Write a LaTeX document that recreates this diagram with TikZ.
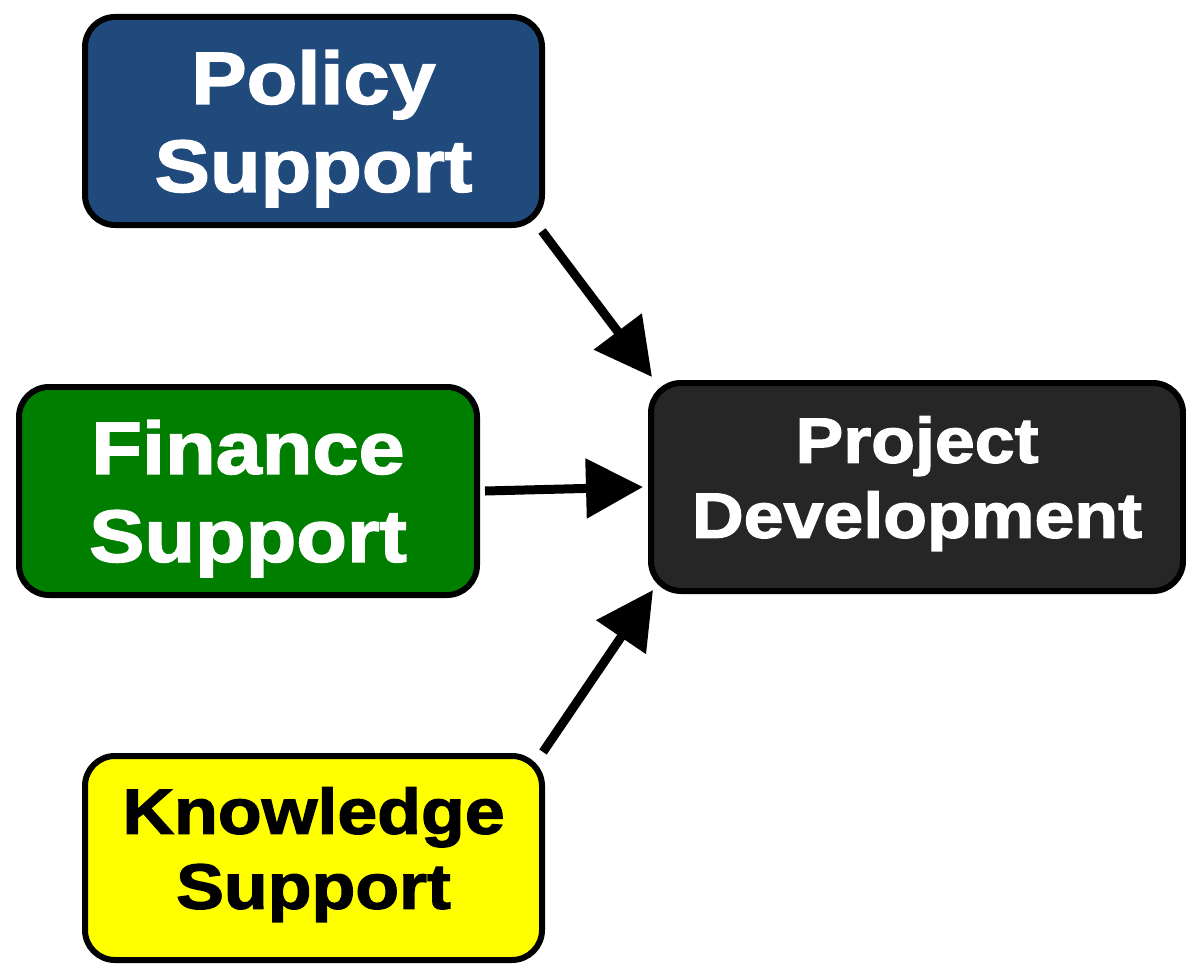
\documentclass[tikz,border=0pt]{standalone}
\usepackage{fontspec}
\newfontfamily\boxfont{Liberation Sans}[FakeStretch=1.12,FakeBold=2]
\usetikzlibrary{arrows.meta}
\definecolor{polblue}{RGB}{33,74,124}
\definecolor{fingreen}{RGB}{0,126,0}
\definecolor{knyellow}{RGB}{255,255,0}
\definecolor{projgray}{RGB}{38,38,38}
\begin{document}
\begin{tikzpicture}[x=1pt,y=-1pt,
  card/.style={draw=black, line width=6pt, rounded corners=30pt, align=center,
    inner sep=0pt},
  bigtext/.style={font=\boxfont\bfseries\fontsize{74}{88}\selectfont,
    text depth=-6pt},
  midtext/.style={font=\boxfont\bfseries\fontsize{64}{75}\selectfont,
    text depth=20pt},
  arr/.style={draw=black, line width=9pt, -{Triangle[length=57pt,width=58pt]}}]
\useasboundingbox (0,0) rectangle (1186,966);
\node[card, bigtext, fill=polblue, text=white, minimum width=457pt, minimum height=208pt]
  (pol) at (313.5,121) {Policy\\Support};
\node[card, bigtext, fill=fingreen, text=white, minimum width=458pt, minimum height=208pt]
  (fin) at (248,491) {Finance\\Support};
\node[card, midtext, fill=projgray, text=white, minimum width=532pt, minimum height=208pt]
  (proj) at (917,487) {Project\\Development};
\node[card, midtext, fill=knyellow, text=black, minimum width=457pt, minimum height=204pt]
  (kn) at (313.5,858) {Knowledge\\Support};
\draw[arr] ([shift={(-3,3)}]pol.south east) -- ([shift={(4,-3)}]proj.north west);
\draw[arr] ([shift={(5,0)}]fin.east) -- ([shift={(-5,0)}]proj.west);
\draw[arr] ([shift={(-2,-1)}]kn.north east) -- ([shift={(5,-4)}]proj.south west);
\end{tikzpicture}
\end{document}
